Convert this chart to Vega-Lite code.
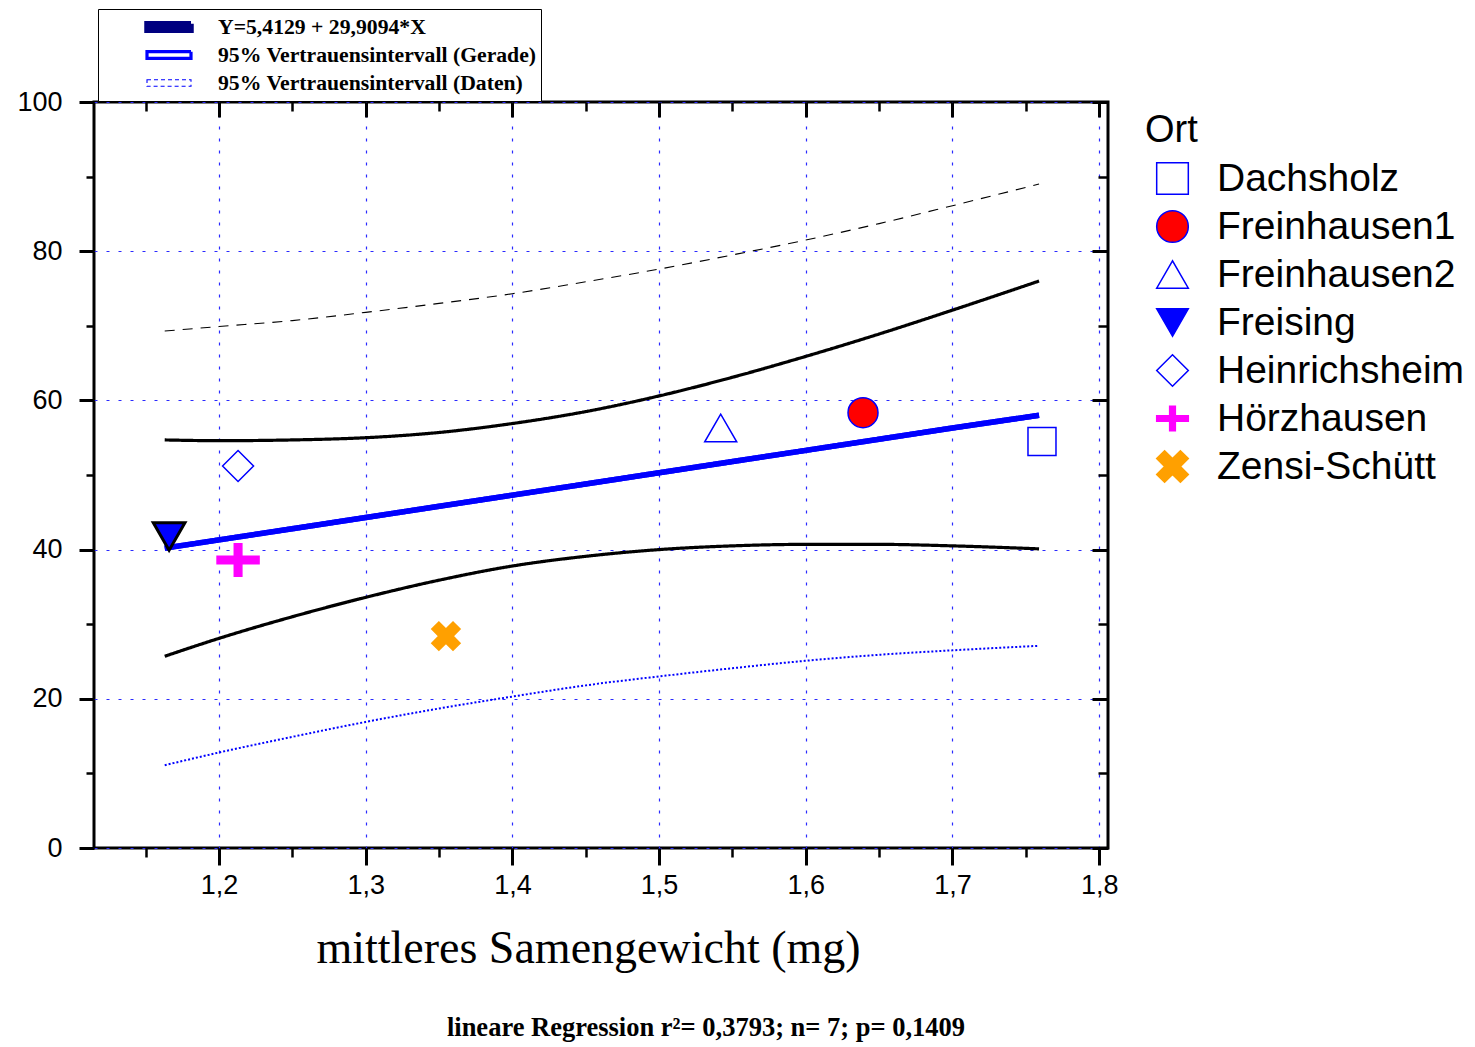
{
  "$schema": "https://vega.github.io/schema/vega-lite/v6.json",
  "width": 1014,
  "height": 746,
  "padding": {"left": 16, "top": 8, "right": 5, "bottom": 5},
  "background": "white",
  "title": {
    "text": "lineare Regression r²= 0,3793; n= 7; p= 0,1409",
    "orient": "bottom", "anchor": "middle", "frame": "group", "dx": 105, "offset": 44,
    "font": "Liberation Serif", "fontSize": 26.5, "fontWeight": "bold", "color": "black"
  },
  "config": {
    "view": {"stroke": "black", "strokeWidth": 3},
    "axis": {
      "domain": false, "tickColor": "black", "labelColor": "black",
      "labelFont": "Liberation Sans", "labelFontSize": 27, "labelFlush": false,
      "gridColor": "#2a2aff", "gridDash": [3, 9], "gridWidth": 1.2, "gridOpacity": 1
    }
  },
  "datasets": {
    "curves": [
      {"c": "reg", "x": 1.163, "y": 40.2}, {"c": "reg", "x": 1.2, "y": 41.3}, {"c": "reg", "x": 1.25, "y": 42.8},
      {"c": "reg", "x": 1.3, "y": 44.3}, {"c": "reg", "x": 1.35, "y": 45.8}, {"c": "reg", "x": 1.4, "y": 47.3},
      {"c": "reg", "x": 1.45, "y": 48.8}, {"c": "reg", "x": 1.5, "y": 50.3}, {"c": "reg", "x": 1.55, "y": 51.8},
      {"c": "reg", "x": 1.6, "y": 53.3}, {"c": "reg", "x": 1.65, "y": 54.8}, {"c": "reg", "x": 1.7, "y": 56.3},
      {"c": "reg", "x": 1.759, "y": 58.0},
      {"c": "ciu", "x": 1.163, "y": 54.7}, {"c": "ciu", "x": 1.2, "y": 54.6}, {"c": "ciu", "x": 1.25, "y": 54.7},
      {"c": "ciu", "x": 1.3, "y": 55.0}, {"c": "ciu", "x": 1.35, "y": 55.7}, {"c": "ciu", "x": 1.4, "y": 56.9},
      {"c": "ciu", "x": 1.45, "y": 58.5}, {"c": "ciu", "x": 1.5, "y": 60.6}, {"c": "ciu", "x": 1.55, "y": 63.1},
      {"c": "ciu", "x": 1.6, "y": 65.9}, {"c": "ciu", "x": 1.65, "y": 68.9}, {"c": "ciu", "x": 1.7, "y": 72.1},
      {"c": "ciu", "x": 1.759, "y": 76.0},
      {"c": "cil", "x": 1.163, "y": 25.7}, {"c": "cil", "x": 1.2, "y": 28.1}, {"c": "cil", "x": 1.25, "y": 31.0},
      {"c": "cil", "x": 1.3, "y": 33.6}, {"c": "cil", "x": 1.35, "y": 35.9}, {"c": "cil", "x": 1.4, "y": 37.8},
      {"c": "cil", "x": 1.45, "y": 39.1}, {"c": "cil", "x": 1.5, "y": 40.0}, {"c": "cil", "x": 1.55, "y": 40.5},
      {"c": "cil", "x": 1.6, "y": 40.7}, {"c": "cil", "x": 1.65, "y": 40.7}, {"c": "cil", "x": 1.7, "y": 40.5},
      {"c": "cil", "x": 1.759, "y": 40.1},
      {"c": "piu", "x": 1.163, "y": 69.3}, {"c": "piu", "x": 1.2, "y": 69.9}, {"c": "piu", "x": 1.25, "y": 70.7},
      {"c": "piu", "x": 1.3, "y": 71.8}, {"c": "piu", "x": 1.35, "y": 73.0}, {"c": "piu", "x": 1.4, "y": 74.3},
      {"c": "piu", "x": 1.45, "y": 75.9}, {"c": "piu", "x": 1.5, "y": 77.6}, {"c": "piu", "x": 1.55, "y": 79.5},
      {"c": "piu", "x": 1.6, "y": 81.5}, {"c": "piu", "x": 1.65, "y": 83.7}, {"c": "piu", "x": 1.7, "y": 86.1},
      {"c": "piu", "x": 1.759, "y": 89.0},
      {"c": "pil", "x": 1.163, "y": 11.1}, {"c": "pil", "x": 1.2, "y": 12.8}, {"c": "pil", "x": 1.25, "y": 14.9},
      {"c": "pil", "x": 1.3, "y": 16.9}, {"c": "pil", "x": 1.35, "y": 18.7}, {"c": "pil", "x": 1.4, "y": 20.3},
      {"c": "pil", "x": 1.45, "y": 21.8}, {"c": "pil", "x": 1.5, "y": 23.0}, {"c": "pil", "x": 1.55, "y": 24.1},
      {"c": "pil", "x": 1.6, "y": 25.1}, {"c": "pil", "x": 1.65, "y": 25.9}, {"c": "pil", "x": 1.7, "y": 26.5},
      {"c": "pil", "x": 1.759, "y": 27.1}
    ],
    "points": [
      {"Ort": "Dachsholz", "x": 1.761, "y": 54.5},
      {"Ort": "Freinhausen1", "x": 1.639, "y": 58.35},
      {"Ort": "Freinhausen2", "x": 1.542, "y": 56.3},
      {"Ort": "Freising", "x": 1.166, "y": 41.75},
      {"Ort": "Heinrichsheim", "x": 1.213, "y": 51.2},
      {"Ort": "Hörzhausen", "x": 1.213, "y": 38.6},
      {"Ort": "Zensi-Schütt", "x": 1.3547, "y": 28.4}
    ]
  },
  "layer": [
    {
      "data": {"name": "curves"},
      "mark": {"type": "line", "interpolate": "monotone", "strokeCap": "butt"},
      "encoding": {
        "x": {"field": "x", "type": "quantitative",
          "scale": {"domain": [1.1148, 1.806], "nice": false, "zero": false},
          "axis": {"orient": "bottom", "values": [1.2, 1.3, 1.4, 1.5, 1.6, 1.7, 1.8], "tickSize": 17, "tickWidth": 3,
            "grid": true, "labelExpr": "replace(format(datum.value, '.1f'), '.', ',')", "labelPadding": 7,
            "labelFont": "Liberation Sans Narrow, Liberation Sans", "labelFontSize": 27,
            "title": "mittleres Samengewicht (mg)", "titleFont": "Liberation Serif", "titleFontSize": 46,
            "titleFontWeight": "normal", "titleColor": "black", "titlePadding": 28, "titleX": 494}},
        "y": {"field": "y", "type": "quantitative",
          "scale": {"domain": [0, 100], "nice": false, "zero": true},
          "axis": {"orient": "left", "values": [0, 20, 40, 60, 80, 100], "tickSize": 15, "tickWidth": 3,
            "grid": true, "labelPadding": 17, "format": "d", "title": null}},
        "color": {"field": "c", "type": "nominal",
          "scale": {"domain": ["ciu", "cil", "reg", "piu", "pil"], "range": ["#000000", "#000000", "#0000ff", "#000000", "#0000ff"]},
          "legend": null},
        "strokeDash": {"field": "c", "type": "nominal",
          "scale": {"type": "ordinal", "domain": ["pil", "piu", "reg", "cil", "ciu"], "range": [[2, 2], [10, 8], [1, 0], [1, 0], [1, 0]]},
          "legend": null},
        "strokeWidth": {"field": "c", "type": "nominal",
          "scale": {"type": "ordinal", "domain": ["reg", "ciu", "cil", "piu", "pil"], "range": [5.5, 3.2, 3.2, 1.1, 2]},
          "legend": {"values": ["reg", "ciu", "piu"], "orient": "none", "legendX": 4, "legendY": -93, "title": null,
            "direction": "vertical", "padding": 4, "strokeColor": "black", "fillColor": "white",
            "symbolType": "M-1,-0.15L1,-0.15L1,0.15L-1,0.15Z", "symbolSize": 1936, "symbolOffset": 42, "labelOffset": 24,
            "labelFont": "Liberation Serif", "labelFontSize": 21.7, "labelFontWeight": "bold", "labelColor": "black",
            "labelLimit": 340, "rowPadding": 0, "clipHeight": 28,
            "labelExpr": "datum.value === 'reg' ? 'Y=5,4129 + 29,9094*X' : datum.value === 'ciu' ? '95% Vertrauensintervall (Gerade)' : '95% Vertrauensintervall (Daten)'",
            "encode": {"symbols": {"update": {
              "fill": {"signal": "datum.value === 'reg' ? '#000080' : '#ffffff'"},
              "fillOpacity": {"value": 1},
              "stroke": {"signal": "datum.value === 'reg' ? '#000080' : '#0000ff'"},
              "strokeWidth": {"value": 1.5},
              "strokeDash": {"signal": "datum.value === 'piu' ? [4, 3] : [1, 0]"}}}}}}
      }
    },
    {
      "data": {"name": "curves"},
      "transform": [{"filter": "datum.c === 'reg'"}],
      "mark": {"type": "line", "color": "#0000ff", "strokeWidth": 5.5, "strokeCap": "butt"},
      "encoding": {
        "x": {"field": "x", "type": "quantitative",
          "scale": {"domain": [1.1148, 1.806], "nice": false, "zero": false},
          "axis": {"orient": "bottom", "values": [1.15, 1.25, 1.35, 1.45, 1.55, 1.65, 1.75], "tickSize": 9, "tickWidth": 2.5,
            "grid": false, "labels": false, "title": null}},
        "y": {"field": "y", "type": "quantitative",
          "scale": {"domain": [0, 100], "nice": false, "zero": true},
          "axis": {"orient": "left", "values": [10, 30, 50, 70, 90], "tickSize": 8, "tickWidth": 2.5,
            "grid": false, "labels": false, "title": null}}
      }
    },
    {
      "data": {"name": "points"},
      "mark": {"type": "point", "opacity": 1, "strokeWidth": 1.5},
      "encoding": {
        "x": {"field": "x", "type": "quantitative",
          "scale": {"domain": [1.1148, 1.806], "nice": false, "zero": false},
          "axis": {"orient": "top", "values": [1.2, 1.3, 1.4, 1.5, 1.6, 1.7, 1.8], "tickSize": -15, "tickWidth": 3,
            "grid": false, "labels": false, "title": null}},
        "y": {"field": "y", "type": "quantitative",
          "scale": {"domain": [0, 100], "nice": false, "zero": true},
          "axis": {"orient": "right", "values": [0, 20, 40, 60, 80, 100], "tickSize": -16, "tickWidth": 3,
            "grid": false, "labels": false, "title": null}},
        "shape": {"field": "Ort", "type": "nominal",
          "scale": {"domain": ["Dachsholz", "Freinhausen1", "Freinhausen2", "Freising", "Heinrichsheim", "Hörzhausen", "Zensi-Schütt"],
            "range": ["square", "circle", "triangle-up", "triangle-down", "diamond",
              "M-1,-0.18L-0.18,-0.18L-0.18,-0.77L0.18,-0.77L0.18,-0.18L1,-0.18L1,0.18L0.18,0.18L0.18,0.77L-0.18,0.77L-0.18,0.18L-1,0.18Z",
              "M-1,-0.5L-0.5,-1L0,-0.5L0.5,-1L1,-0.5L0.5,0L1,0.5L0.5,1L0,0.5L-0.5,1L-1,0.5L-0.5,0Z"]},
          "legend": {"title": "Ort", "orient": "right", "offset": 25, "padding": 10,
            "titleFont": "Liberation Sans", "titleFontSize": 38, "titleFontWeight": "normal", "titleColor": "black", "titlePadding": 9,
            "labelFont": "Liberation Sans", "labelFontSize": 39, "labelColor": "black", "labelLimit": 400, "labelOffset": 25,
            "symbolSize": 1000, "symbolOffset": 8, "rowPadding": 8, "symbolStrokeWidth": 1.5}},
        "fill": {"field": "Ort", "type": "nominal",
          "scale": {"domain": ["Dachsholz", "Freinhausen1", "Freinhausen2", "Freising", "Heinrichsheim", "Hörzhausen", "Zensi-Schütt"],
            "range": ["#ffffff", "#ff0000", "#ffffff", "#0000ff", "#ffffff", "#ff00ff", "#ffa000"]},
          "legend": {"title": "Ort", "orient": "right", "offset": 25, "padding": 10,
            "titleFont": "Liberation Sans", "titleFontSize": 38, "titleFontWeight": "normal", "titleColor": "black", "titlePadding": 9,
            "labelFont": "Liberation Sans", "labelFontSize": 39, "labelColor": "black", "labelLimit": 400, "labelOffset": 25,
            "symbolSize": 1000, "symbolOffset": 8, "rowPadding": 8, "symbolStrokeWidth": 1.5}},
        "stroke": {"field": "Ort", "type": "nominal",
          "scale": {"domain": ["Dachsholz", "Freinhausen1", "Freinhausen2", "Freising", "Heinrichsheim", "Hörzhausen", "Zensi-Schütt"],
            "range": ["#0000ff", "#0000ff", "#0000ff", "#0000ff", "#0000ff", "#ff00ff", "#ffa000"]},
          "legend": {"title": "Ort", "orient": "right", "offset": 25, "padding": 10,
            "titleFont": "Liberation Sans", "titleFontSize": 38, "titleFontWeight": "normal", "titleColor": "black", "titlePadding": 9,
            "labelFont": "Liberation Sans", "labelFontSize": 39, "labelColor": "black", "labelLimit": 400, "labelOffset": 25,
            "symbolSize": 1000, "symbolOffset": 8, "rowPadding": 8, "symbolStrokeWidth": 1.5}},
        "size": {"field": "Ort", "type": "nominal",
          "scale": {"type": "ordinal", "domain": ["Zensi-Schütt", "Hörzhausen", "Heinrichsheim", "Freising", "Freinhausen2", "Freinhausen1", "Dachsholz"],
            "range": [800, 1764, 961, 1000, 1024, 900, 784]},
          "legend": null}
      }
    },
    {
      "data": {"name": "points"},
      "transform": [{"filter": "datum.Ort === 'Freising'"}],
      "mark": {"type": "point", "shape": "triangle-down", "filled": true, "fill": "#0000ff", "stroke": "#000000",
        "strokeWidth": 3, "size": 1000, "opacity": 1},
      "encoding": {
        "x": {"field": "x", "type": "quantitative",
          "scale": {"domain": [1.1148, 1.806], "nice": false, "zero": false},
          "axis": {"orient": "top", "values": [1.15, 1.25, 1.35, 1.45, 1.55, 1.65, 1.75], "tickSize": -9, "tickWidth": 2.5,
            "grid": false, "labels": false, "title": null}},
        "y": {"field": "y", "type": "quantitative",
          "scale": {"domain": [0, 100], "nice": false, "zero": true},
          "axis": {"orient": "right", "values": [10, 30, 50, 70, 90], "tickSize": -10, "tickWidth": 2.5,
            "grid": false, "labels": false, "title": null}}
      }
    }
  ],
  "resolve": {"axis": {"x": "independent", "y": "independent"}}
}
